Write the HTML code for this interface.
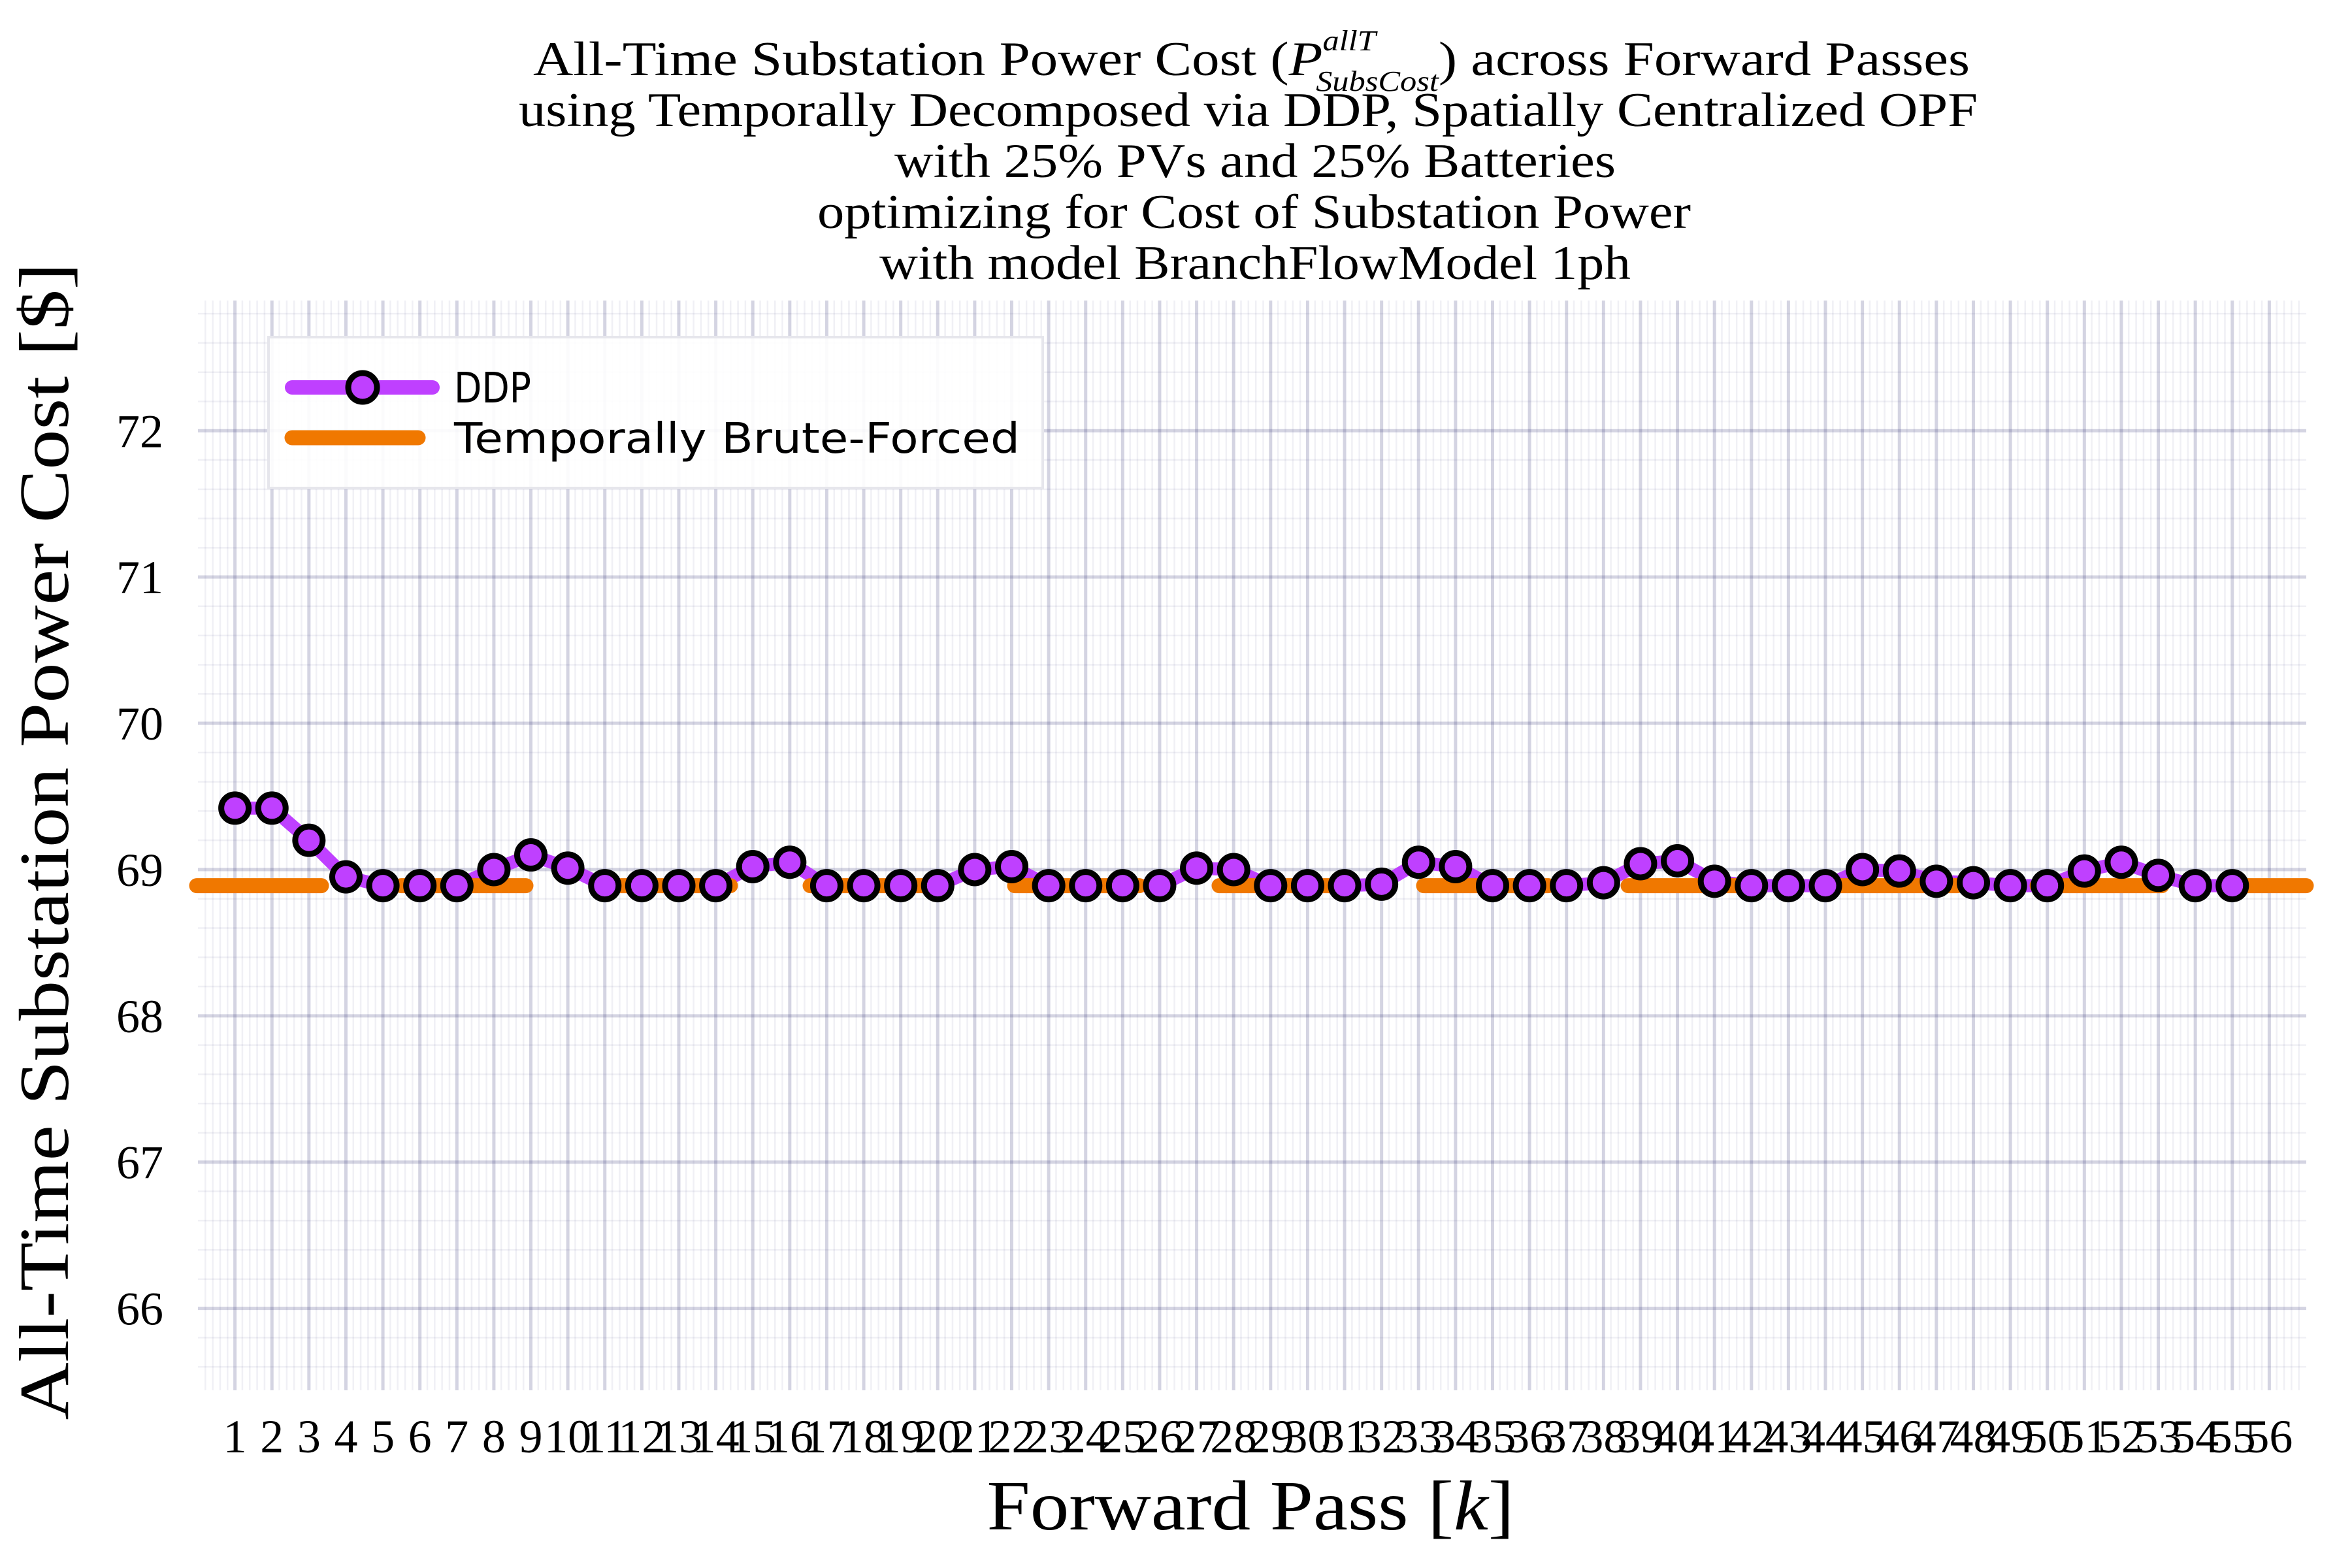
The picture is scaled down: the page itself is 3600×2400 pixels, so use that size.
<!DOCTYPE html>
<html><head><meta charset="utf-8"><style>
html,body{margin:0;padding:0;background:#fff;}
svg{display:block;}
</style></head><body>
<svg id="chart" width="3600" height="2400" viewBox="0 0 3600 2400" xmlns="http://www.w3.org/2000/svg">
<g id="title" font-family="'Liberation Serif', serif" font-size="74" fill="#000" text-anchor="start">
<text x="816" y="115" textLength="2199" lengthAdjust="spacingAndGlyphs">All-Time Substation Power Cost (<tspan font-style="italic">P</tspan><tspan font-style="italic" font-size="44" dy="-38">allT</tspan><tspan font-style="italic" font-size="44" dx="-80" dy="62">SubsCost</tspan><tspan dy="-24">) across Forward Passes</tspan></text>
<text x="794" y="193" textLength="2233" lengthAdjust="spacingAndGlyphs">using Temporally Decomposed via DDP, Spatially Centralized OPF</text>
<text x="1369" y="271" textLength="1104" lengthAdjust="spacingAndGlyphs">with 25% PVs and 25% Batteries</text>
<text x="1251" y="349" textLength="1337" lengthAdjust="spacingAndGlyphs">optimizing for Cost of Substation Power</text>
<text x="1346" y="427" textLength="1150" lengthAdjust="spacingAndGlyphs">with model BranchFlowModel 1ph</text>
</g>
<g id="grid"></g>
<g id="series"></g>
<g id="ticks" font-family="'Liberation Serif', serif" font-size="72" fill="#000"></g>
<text x="1914" y="2341" font-family="'Liberation Serif', serif" font-size="108" text-anchor="middle" textLength="807" lengthAdjust="spacingAndGlyphs">Forward Pass [<tspan font-style="italic">k</tspan>]</text>
<text x="0" y="0" transform="translate(104,1288) rotate(-90)" font-family="'Liberation Serif', serif" font-size="108" text-anchor="middle" textLength="1771" lengthAdjust="spacingAndGlyphs">All-Time Substation Power Cost [$]</text>
<g id="legend">
<rect x="411" y="516" width="1185" height="231" fill="#fff" fill-opacity="0.9" stroke="#e6e6ec" stroke-width="4"/>
<g>
<line x1="447" y1="593" x2="662" y2="593" stroke="#bf40ff" stroke-width="22" stroke-linecap="round"/>
<circle cx="555" cy="593" r="22" fill="#bf40ff" stroke="#000" stroke-width="9"/>
<text x="695" y="616" font-family="'DejaVu Sans', sans-serif" font-size="64" textLength="118" lengthAdjust="spacingAndGlyphs">DDP</text>
</g>
<g>
<line x1="447" y1="670" x2="640" y2="670" stroke="#f07800" stroke-width="23" stroke-linecap="round"/>
<text x="695" y="693" font-family="'DejaVu Sans', sans-serif" font-size="64" textLength="866" lengthAdjust="spacingAndGlyphs">Temporally Brute-Forced</text>
</g>
</g>
</svg>
<script>
const xTicks = [];
for (let i = 1; i <= 56; i++) xTicks.push(i);
const yTicks = [66, 67, 68, 69, 70, 71, 72];
const passes = [1,2,3,4,5,6,7,8,9,10,11,12,13,14,15,16,17,18,19,20,21,22,23,24,25,26,27,28,29,30,31,32,33,34,35,36,37,38,39,40,41,42,43,44,45,46,47,48,49,50,51,52,53,54,55];
const ddpValues = [69.42,69.42,69.2,68.95,68.89,68.89,68.89,69.0,69.1,69.01,68.89,68.89,68.89,68.89,69.02,69.05,68.89,68.89,68.89,68.89,69.0,69.02,68.89,68.89,68.89,68.89,69.01,69.0,68.89,68.89,68.89,68.9,69.05,69.02,68.89,68.89,68.89,68.91,69.04,69.06,68.92,68.89,68.89,68.89,69.0,68.99,68.92,68.91,68.89,68.89,68.99,69.05,68.96,68.89,68.89];
const bruteForcedValue = [68.89];

const NS = "http://www.w3.org/2000/svg";
const PL = 303, PR = 3530, PT = 460, PB = 2128;
const XMIN = 0, XMAX = 57, YMIN = 65.44, YMAX = 72.89;
const sx = v => PL + (v - XMIN) / (XMAX - XMIN) * (PR - PL);
const sy = v => PB - (v - YMIN) / (YMAX - YMIN) * (PB - PT);
function mk(tag, attrs, parent) {
  const e = document.createElementNS(NS, tag);
  for (const k in attrs) e.setAttribute(k, attrs[k]);
  parent.appendChild(e);
  return e;
}
const grid = document.getElementById('grid');
for (let v = Math.ceil(XMIN * 5) / 5; v <= XMAX + 1e-9; v += 0.2) {
  if (Math.abs(v - Math.round(v)) < 1e-6) continue;
  const l = mk('line', {x1: sx(v), x2: sx(v), y1: PT, y2: PB, stroke: '#28286e', 'stroke-opacity': 0.07, 'stroke-width': 2.5}, grid);
  
  
}
for (let v = Math.ceil(YMIN * 5) / 5; v <= YMAX + 1e-9; v += 0.2) {
  if (Math.abs(v - Math.round(v)) < 1e-6) continue;
  const l = mk('line', {x1: PL, x2: PR, y1: sy(v), y2: sy(v), stroke: '#28286e', 'stroke-opacity': 0.07, 'stroke-width': 2.5}, grid);
  
  
}
const ticks = document.getElementById('ticks');
xTicks.forEach(t => {
  const l = mk('line', {x1: sx(t), x2: sx(t), y1: PT, y2: PB, stroke: '#28286e', 'stroke-opacity': 0.2, 'stroke-width': 5}, grid);
  
  
  const tx = mk('text', {x: sx(t), y: 2223, 'text-anchor': 'middle'}, ticks);
  tx.textContent = t;
  
  
});
yTicks.forEach(t => {
  const l = mk('line', {x1: PL, x2: PR, y1: sy(t), y2: sy(t), stroke: '#28286e', 'stroke-opacity': 0.2, 'stroke-width': 5}, grid);
  
  
  const tx = mk('text', {x: 250, y: sy(t) + 25, 'text-anchor': 'end'}, ticks);
  tx.textContent = t;
  
  
});
const series = document.getElementById('series');
const pts = passes.map((p, i) => sx(p) + ',' + sy(ddpValues[i])).join(' ');
const pl = mk('polyline', {points: pts, fill: 'none', stroke: '#bf40ff', 'stroke-width': 20, 'stroke-linejoin': 'round'}, series);


const bf = mk('line', {x1: 301, x2: PR, y1: sy(bruteForcedValue[0]), y2: sy(bruteForcedValue[0]), stroke: '#f07800', 'stroke-width': 23, 'stroke-linecap': 'round', 'stroke-dasharray': '191 122'}, series);


passes.forEach((p, i) => {
  const c = mk('circle', {cx: sx(p), cy: sy(ddpValues[i]), r: 21, fill: '#bf40ff', stroke: '#000', 'stroke-width': 9}, series);
  
  
});
</script>
</body></html>
